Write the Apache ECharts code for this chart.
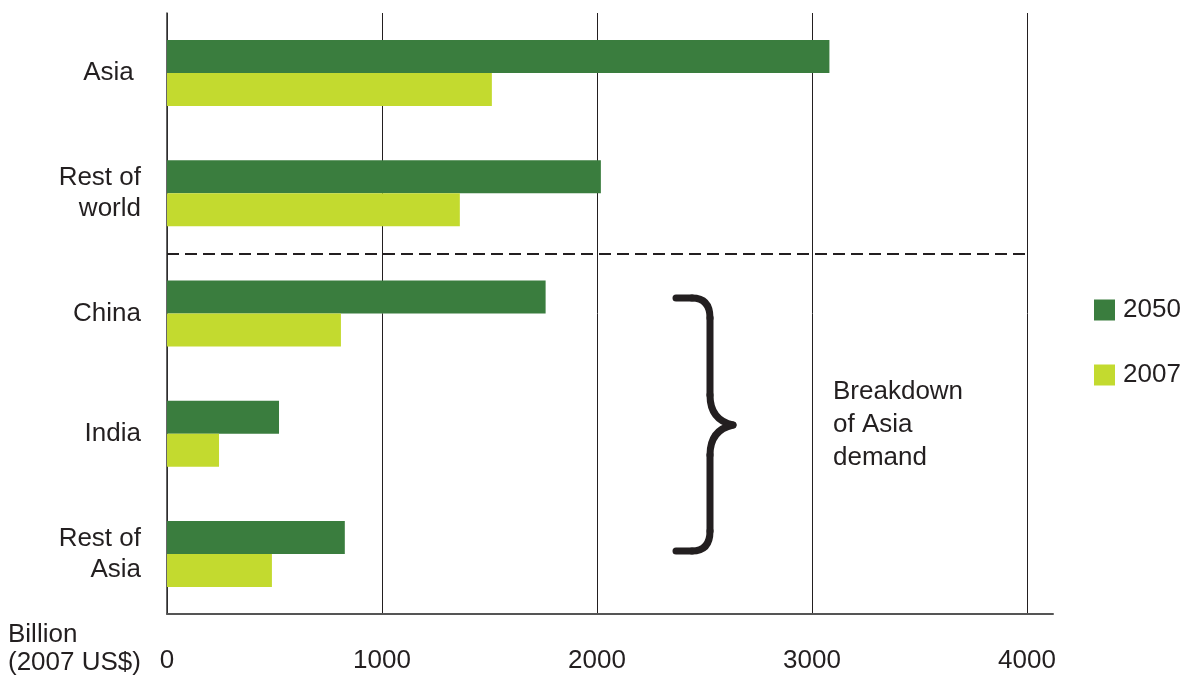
<!DOCTYPE html>
<html>
<head>
<meta charset="utf-8">
<script src="https://cdn.jsdelivr.net/npm/echarts@6/dist/echarts.min.js"></script>
<style>
html,body{margin:0;padding:0;background:#fff;}
#chart{width:1184px;height:675px;}
</style>
</head>
<body>
<div id="chart"></div>
<script>
const categories = ['Asia', 'Rest of\nworld', 'China', 'India', 'Rest of\nAsia'];
const seriesNames = ['2050', '2007'];
const values2050 = [3081, 2018, 1761, 521, 827];
const values2007 = [1511, 1362, 809, 242, 488];
const xTicks = [0, 1000, 2000, 3000, 4000];
const axisTitle = 'Billion\n(2007 US$)';
const noteText = 'Breakdown\nof Asia\ndemand';
const separatorAfterCount = 2; // dashed line after the first two categories

const FONT = 'Liberation Sans, Arial, Helvetica, sans-serif';
const TXT = '#231f20';
const DARK = '#3a7d3e';
const LIGHT = '#c3da2f';

const braceStyle = {fill: null, stroke: TXT, lineWidth: 7, lineCap: 'round'};
function seg(x1, y1, x2, y2) {
  return {type: 'line', shape: {x1: x1, y1: y1, x2: x2, y2: y2}, style: braceStyle};
}
function curve(x1, y1, cx, cy, x2, y2) {
  return {type: 'bezierCurve', shape: {x1: x1, y1: y1, cpx1: cx, cpy1: cy, x2: x2, y2: y2}, style: braceStyle};
}

const chart = echarts.init(document.getElementById('chart'), null, {renderer: 'canvas'});
chart.setOption({
  backgroundColor: '#ffffff',
  animation: false,
  textStyle: {fontFamily: FONT, color: TXT},
  legend: {
    orient: 'vertical',
    left: 1094,
    top: 297,
    padding: 0,
    itemWidth: 21,
    itemHeight: 21,
    itemGap: 39,
    icon: 'rect',
    data: seriesNames,
    textStyle: {fontSize: 26, color: TXT, fontFamily: FONT, padding: [0, 0, 0, 3]},
    selectedMode: false
  },
  grid: [
    {left: 167, right: 157, top: 13, bottom: 61, containLabel: false},
    {left: 167, right: 131, top: 13, bottom: 61, containLabel: false}
  ],
  xAxis: [
    {
      type: 'value', gridIndex: 0,
      min: xTicks[0], max: xTicks[xTicks.length - 1], interval: 1000,
      axisLine: {show: false},
      axisTick: {show: false},
      axisLabel: {fontSize: 26, color: TXT, fontFamily: FONT, margin: 34, formatter: function (v) { return String(v); }},
      splitLine: {show: true, lineStyle: {color: TXT, width: 1}}
    },
    {
      type: 'value', gridIndex: 1, min: 0, max: 1,
      axisLine: {show: true, lineStyle: {color: '#555', width: 2}},
      axisTick: {show: false}, axisLabel: {show: false}, splitLine: {show: false}
    }
  ],
  yAxis: [
    {
      type: 'category', gridIndex: 0, inverse: true,
      data: categories,
      axisLine: {show: true, lineStyle: {color: '#333', width: 1.5}},
      axisTick: {show: false},
      axisLabel: {
        fontSize: 26, color: TXT, fontFamily: FONT, margin: 26, lineHeight: 31, align: 'right',
        formatter: function (v) { return v === 'Asia' ? 'Asia ' : v; }
      },
      splitLine: {show: false}
    },
    {type: 'value', gridIndex: 1, show: false, min: 0, max: 1},
    {type: 'value', gridIndex: 0, show: false, inverse: true, min: 0, max: categories.length}
  ],
  series: [
    {
      name: seriesNames[0], type: 'bar', xAxisIndex: 0, yAxisIndex: 0,
      data: values2050, barWidth: 33, barGap: '0%',
      itemStyle: {color: DARK}
    },
    {
      name: seriesNames[1], type: 'bar', xAxisIndex: 0, yAxisIndex: 0,
      data: values2007, barWidth: 33, barGap: '0%',
      itemStyle: {color: LIGHT}
    },
    {
      name: 'separator', type: 'line', xAxisIndex: 0, yAxisIndex: 2,
      data: [], silent: true,
      markLine: {
        silent: true,
        symbol: ['none', 'none'],
        label: {show: false},
        lineStyle: {color: TXT, width: 2, type: [12, 6]},
        data: [{yAxis: separatorAfterCount}]
      }
    }
  ],
  graphic: [
    seg(676, 298, 692, 298),
    curve(692, 298, 710, 298, 710, 318),
    seg(710, 318, 710, 395),
    curve(710, 395, 710, 420, 733, 425),
    curve(733, 425, 710, 430, 710, 455),
    seg(710, 455, 710, 531),
    curve(710, 531, 710, 551, 692, 551),
    seg(692, 551, 676, 551),
    {
      type: 'text', x: 833, y: 375,
      style: {text: noteText, font: '26px ' + FONT, fill: TXT, lineHeight: 33, verticalAlign: 'top', align: 'left'}
    },
    {
      type: 'text', x: 8, y: 621,
      style: {text: axisTitle, font: '26px ' + FONT, fill: TXT, lineHeight: 28, verticalAlign: 'top', align: 'left'}
    }
  ]
});
</script>
</body>
</html>
